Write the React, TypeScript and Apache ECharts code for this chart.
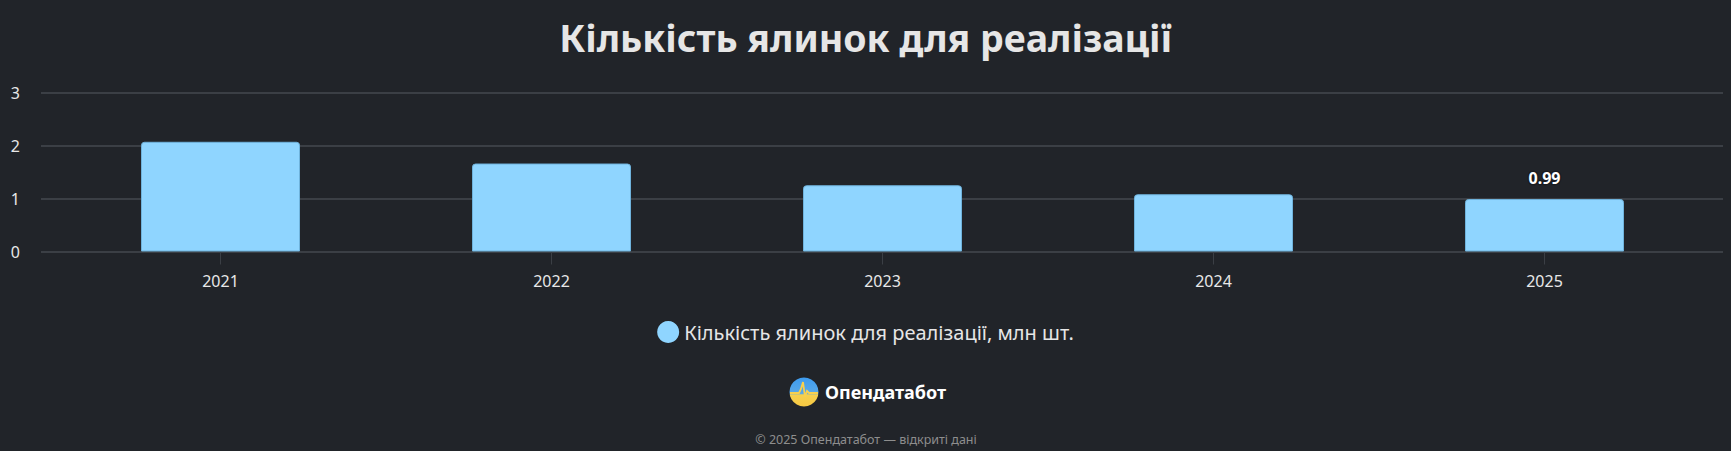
import React, { useEffect, useRef } from "react";
import * as echarts from "echarts";

const categories = ["2021", "2022", "2023", "2024", "2025"];
const values = [2.07, 1.66, 1.25, 1.08, 0.99];
const yTicks = { min: 0, max: 3, interval: 1 };
const titleText = "Кількість ялинок для реалізації";
const seriesName = "Кількість ялинок для реалізації, млн шт.";
const brandText = "Опендатабот";
const footerText = "© 2025 Опендатабот — відкриті дані";

const BG = "#212429";
const BAR = "#8fd5ff";
const GRIDLINE = "#45494f";
const FONT = "'Noto Sans', 'Open Sans', sans-serif";

export default function App() {
  const ref = useRef<HTMLDivElement>(null);
  useEffect(() => {
    if (!ref.current) return;
    const chart = echarts.init(ref.current, null, { renderer: "svg" });
    const lastIdx = values.length - 1;
    const data = values.map((v, i) =>
      i === lastIdx ? { value: v, label: { show: true } } : v
    );
    chart.setOption({
      animation: false,
      backgroundColor: BG,
      textStyle: { fontFamily: FONT },
      title: {
        text: titleText,
        left: "center",
        top: 13,
        textStyle: { color: "#e6e6e6", fontSize: 37.5, fontWeight: "bold", fontFamily: FONT },
      },
      legend: {
        top: 316,
        left: "center",
        icon: "circle",
        itemWidth: 22,
        itemHeight: 22,
        itemGap: 10,
        itemStyle: { borderWidth: 0, color: BAR },
        textStyle: { color: "#e6e6e6", fontSize: 20, fontFamily: FONT },
        data: [seriesName],
      },
      grid: [
        { left: 41, right: 8, top: 92.5, height: 159, containLabel: false },
        { left: 55, right: 21, top: 92.5, height: 159, containLabel: false },
      ],
      xAxis: [
        { type: "category", gridIndex: 0, data: categories, show: false },
        {
          type: "category",
          gridIndex: 1,
          data: categories,
          axisLine: { show: false },
          axisTick: { show: true, alignWithLabel: true, length: 13, lineStyle: { color: "#3b3f45" } },
          axisLabel: { color: "#e8e8e8", fontSize: 16, margin: 21, fontFamily: FONT },
        },
      ],
      yAxis: [
        {
          type: "value",
          gridIndex: 0,
          min: yTicks.min,
          max: yTicks.max,
          interval: yTicks.interval,
          axisLine: { show: false },
          axisTick: { show: false },
          axisLabel: { color: "#e8e8e8", fontSize: 16, margin: 21, fontFamily: FONT },
          splitLine: { lineStyle: { color: GRIDLINE, width: 1.5 } },
        },
        {
          type: "value",
          gridIndex: 1,
          min: yTicks.min,
          max: yTicks.max,
          interval: yTicks.interval,
          show: false,
          splitLine: { show: false },
        },
      ],
      series: [
        {
          name: seriesName,
          type: "bar",
          xAxisIndex: 1,
          yAxisIndex: 1,
          data,
          barWidth: 159,
          itemStyle: { color: BAR, borderRadius: [3, 3, 0, 0], borderColor: "#6fb3dc", borderWidth: 1 },
          label: {
            show: false,
            position: "top",
            distance: 13,
            color: "#ffffff",
            fontSize: 16,
            fontWeight: "bold",
            fontFamily: FONT,
            textBorderColor: "#1a1c20",
            textBorderWidth: 3,
            formatter: (p: any) => String(p.value),
          },
        },
      ],
      graphic: [
        {
          type: "circle",
          shape: { cx: 804, cy: 392, r: 14.5 },
          style: {
            fill: new echarts.graphic.LinearGradient(0, 0, 0, 1, [
              { offset: 0, color: "#3d9cf0" },
              { offset: 0.55, color: "#5aa8e6" },
              { offset: 0.6, color: "#f5d04e" },
              { offset: 1, color: "#f7c842" },
            ]),
          },
        },
        {
          type: "polyline",
          shape: {
            points: [
              [790, 393],
              [799, 393],
              [801, 389],
              [803, 382],
              [805, 397],
              [807, 391],
              [809, 393],
              [818, 393],
            ],
          },
          style: { stroke: "#f7d04e", lineWidth: 1.8, fill: null },
        },
        {
          type: "text",
          x: 825,
          y: 392,
          style: {
            text: brandText,
            fill: "#ffffff",
            font: `bold 18px ${FONT}`,
            verticalAlign: "middle",
          },
        },
        {
          type: "text",
          x: 866,
          y: 439,
          style: {
            text: footerText,
            fill: "#8e8e8e",
            font: `12.5px ${FONT}`,
            align: "center",
            verticalAlign: "middle",
          },
        },
      ],
    });
    return () => chart.dispose();
  }, []);
  return (
    <div
      ref={ref}
      style={{ position: "absolute", left: 0, top: 0, width: 1731, height: 451 }}
    />
  );
}
